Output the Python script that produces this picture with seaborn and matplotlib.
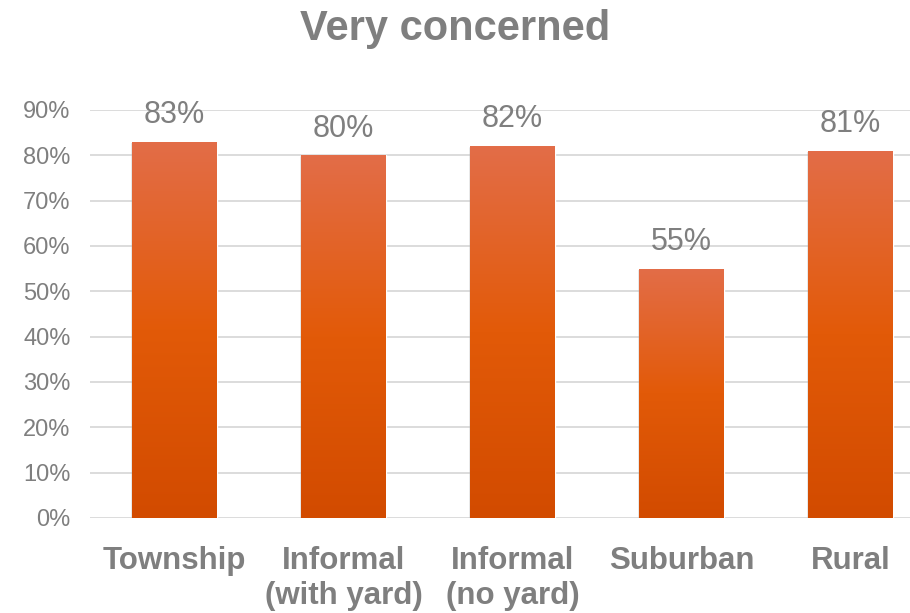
import numpy as np
import pandas as pd
import matplotlib
matplotlib.use("Agg")
import matplotlib.pyplot as plt
from matplotlib.colors import LinearSegmentedColormap
from matplotlib.patches import Rectangle
from matplotlib.ticker import PercentFormatter
import seaborn as sns

categories = ["Township", "Informal\n(with yard)", "Informal\n(no yard)", "Suburban", "Rural"]
values = [0.83, 0.80, 0.82, 0.55, 0.81]
y_ticks = [0.0, 0.1, 0.2, 0.3, 0.4, 0.5, 0.6, 0.7, 0.8, 0.9]

TEXT = "#7F7F7F"
GRID = "#D9D9D9"

sns.set_theme(style="white")
plt.rcParams["font.family"] = ["Liberation Sans", "DejaVu Sans"]

df = pd.DataFrame({"area": categories, "share": values})

fig = plt.figure(figsize=(9.10, 6.13), dpi=100)
# axes extends past the right edge of the canvas
ax = fig.add_axes([90 / 910, 1 - 518 / 613, 845 / 910, (518 - 110) / 613])

sns.barplot(data=df, x="area", y="share", color="#E25A08", width=0.5,
            saturation=1, ax=ax, zorder=3)

# vertical orange gradient + soft shadow for each bar
grad = LinearSegmentedColormap.from_list(
    "bar", [(0.0, "#D24B00"), (0.5, "#E25A08"), (1.0, "#E36D48")])
gimg = np.linspace(0, 1, 256).reshape(-1, 1)
for p in list(ax.patches):
    x0, y0 = p.get_x(), p.get_y()
    w, h = p.get_width(), p.get_height()
    for k, a in enumerate([0.10, 0.07, 0.04]):
        dx = 0.006 * (k + 1)
        dy = 0.002 * (k + 1)
        sh = Rectangle((x0 - dx * 0.4, y0 - dy), w + dx * 0.8, h + dy * 0.5,
                       facecolor="black", edgecolor="none", alpha=a, zorder=2)
        ax.add_patch(sh)
    im = ax.imshow(gimg, cmap=grad, aspect="auto", origin="lower",
                   extent=[x0, x0 + w, y0, y0 + h], zorder=3.5)
    im.set_clip_path(p)
ax.set_xlim(-0.5, 4.5)
ax.set_ylim(0, 0.9)

for i, v in enumerate(values):
    ax.text(i, v + 0.026, f"{v * 100:.0f}%", ha="center", va="bottom",
            fontsize=22, color=TEXT, zorder=5)

ax.set_yticks(y_ticks)
ax.yaxis.set_major_formatter(PercentFormatter(1.0, decimals=0))
ax.grid(axis="y", color=GRID, linewidth=1.3, zorder=0)
ax.set_axisbelow(True)
for s in ax.spines.values():
    s.set_visible(False)
ax.tick_params(axis="y", length=0, pad=14, labelsize=17, labelcolor=TEXT)
ax.tick_params(axis="x", length=0, pad=20, labelsize=22.5, labelcolor=TEXT)
for lbl in ax.get_xticklabels():
    lbl.set_fontweight("bold")
    lbl.set_linespacing(1.22)
ax.set_xlabel("")
ax.set_ylabel("")

fig.text(455 / 910, 1 - 29 / 613, "Very concerned", ha="center", va="center",
         fontsize=30, fontweight="bold", color=TEXT)

fig.savefig("out.png", dpi=100)
